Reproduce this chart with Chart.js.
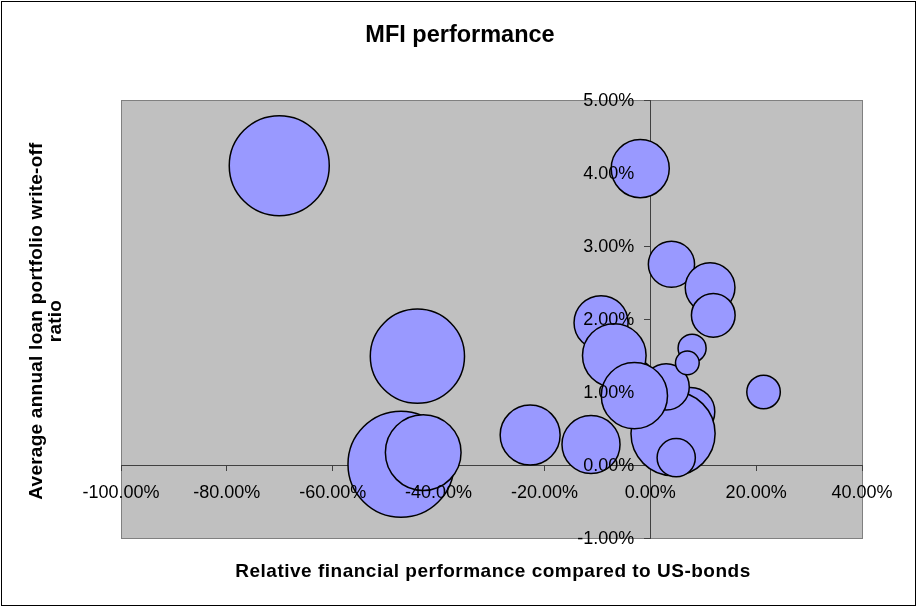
<!DOCTYPE html>
<html>
<head>
<meta charset="utf-8">
<script src="https://cdn.jsdelivr.net/npm/chart.js@4/dist/chart.umd.min.js"></script>
<style>
  body { margin: 0; background: #fff; }
  canvas { display: block; }
</style>
</head>
<body>
<canvas id="chart" width="918" height="608"></canvas>
<script>
// relative financial performance vs US bonds (%), one entry per MFI (drawing order)
var performance = [-70.1, -1.9, 4.0, 11.3, 11.9, -9.3, -3.6, -6.8, 7.6, 4.3, 3.0, -3.0, 7.9, 7.0, 4.9, 21.4, -11.2, -22.7, -44.0, -47.1, -42.9];
// average annual loan portfolio write-off ratio (%)
var writeOff = [4.10, 4.06, 2.75, 2.43, 2.05, 1.95, 1.13, 1.50, 0.73, 0.43, 1.07, 0.95, 1.60, 1.40, 0.10, 1.00, 0.28, 0.41, 1.49, 0.01, 0.17];
// bubble size (relative, largest = 100)
var bubbleSize = [89, 30, 19, 22, 17, 26, 21, 36, 21, 63, 19, 39, 7, 5, 13, 10, 30, 32, 79, 100, 51];

var xTicks = [-100, -80, -60, -40, -20, 0, 20, 40];
var yTicks = [-1, 0, 1, 2, 3, 4, 5];

var chartTitle = 'MFI performance';
var xTitle = 'Relative financial performance compared to US-bonds';
var yTitle = ['Average annual loan portfolio write-off', 'ratio'];

var MAX_R = 53;
var FONT = '"Liberation Sans", Arial, sans-serif';

var points = performance.map(function(x, i) {
    return { x: x, y: writeOff[i], r: MAX_R * Math.sqrt(bubbleSize[i] / 100) };
});

function pct(v) {
    return Number(v).toFixed(2) + '%';
}

var frame = {
    id: 'frame',
    beforeDraw: function(chart) {
        var ctx = chart.ctx;
        var a = chart.chartArea;
        ctx.save();
        ctx.fillStyle = '#fff';
        ctx.fillRect(0, 0, chart.width, chart.height);
        ctx.strokeStyle = '#000';
        ctx.lineWidth = 1;
        ctx.strokeRect(1.5, 1.5, chart.width - 4, chart.height - 4);
        ctx.fillStyle = '#c0c0c0';
        ctx.fillRect(a.left, a.top, a.right - a.left, a.bottom - a.top);
        ctx.strokeStyle = '#808080';
        ctx.strokeRect(a.left + 0.5, a.top + 0.5, a.right - a.left, a.bottom - a.top);
        ctx.restore();
    },
    // excel puts the tick labels on top of the bubbles
    afterDatasetsDraw: function(chart) {
        var ctx = chart.ctx;
        var xs = chart.scales.x;
        var ys = chart.scales.y;
        var x0 = xs.getPixelForValue(0);
        var y0 = ys.getPixelForValue(0);
        ctx.save();
        ctx.fillStyle = '#000';
        ctx.font = '18px ' + FONT;
        ctx.textBaseline = 'middle';
        ctx.textAlign = 'center';
        xs.ticks.forEach(function(t) {
            ctx.fillText(pct(t.value), xs.getPixelForValue(t.value), y0 + 28);
        });
        ctx.textAlign = 'right';
        ys.ticks.forEach(function(t) {
            ctx.fillText(pct(t.value), x0 - 16, ys.getPixelForValue(t.value) + 1);
        });
        ctx.restore();
    },
    afterDraw: function(chart) {
        var ctx = chart.ctx;
        ctx.save();
        ctx.fillStyle = '#000';
        ctx.textAlign = 'center';
        ctx.textBaseline = 'middle';
        ctx.font = 'bold 23.5px ' + FONT;
        ctx.fillText(chartTitle, 460, 36);
        ctx.font = 'bold 19px ' + FONT;
        ctx.letterSpacing = '0.5px';
        ctx.fillText(xTitle, 493, 572);
        ctx.letterSpacing = '0.25px';
        ctx.translate(37, 321);
        ctx.rotate(-Math.PI / 2);
        ctx.fillText(yTitle[0], 0, 0);
        ctx.fillText(yTitle[1], 0, 19);
        ctx.restore();
    }
};

new Chart(document.getElementById('chart'), {
    type: 'bubble',
    data: {
        datasets: [{
            data: points,
            backgroundColor: '#9999ff',
            borderColor: '#000',
            borderWidth: 1.5
        }]
    },
    options: {
        responsive: false,
        animation: false,
        devicePixelRatio: 1,
        events: [],
        layout: { padding: { left: 121, top: 100, right: 56, bottom: 70 } },
        plugins: {
            legend: { display: false },
            tooltip: { enabled: false },
            title: { display: false }
        },
        scales: {
            x: {
                type: 'linear',
                position: { y: 0 },
                min: -100,
                max: 40,
                afterFit: function(axis) { axis.height = 0; },
                afterBuildTicks: function(axis) {
                    axis.ticks = xTicks.map(function(v) { return { value: v }; });
                },
                grid: { drawOnChartArea: false, drawTicks: true, tickLength: 5, color: '#404040' },
                border: { display: true, color: '#404040', width: 1 },
                ticks: { display: false }
            },
            y: {
                type: 'linear',
                position: { x: 0 },
                min: -1,
                max: 5,
                afterFit: function(axis) { axis.width = 0; },
                afterBuildTicks: function(axis) {
                    axis.ticks = yTicks.map(function(v) { return { value: v }; });
                },
                grid: { drawOnChartArea: false, drawTicks: true, tickLength: 6, color: '#404040' },
                border: { display: true, color: '#404040', width: 1 },
                ticks: { display: false }
            }
        }
    },
    plugins: [frame]
});
</script>
</body>
</html>
